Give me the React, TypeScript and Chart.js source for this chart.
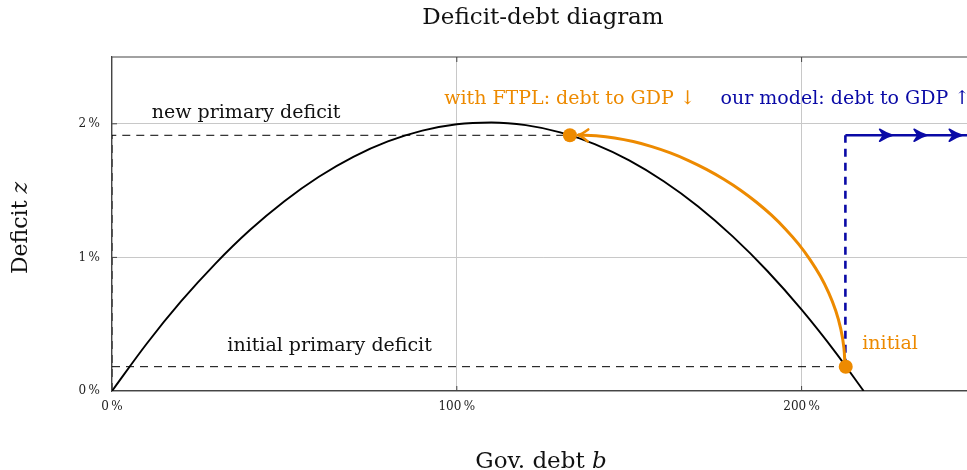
import React, { useEffect, useRef } from "react";
import { Chart, registerables } from "chart.js";

Chart.register(...registerables);

// ---- data (percent of GDP) ----
const curveDebt = [0, 10, 20, 30, 40, 50, 60, 70, 80, 90, 100, 110, 120, 130, 140, 150, 160, 170, 180, 190, 200, 210, 218];
const curveDeficit = [0, 0.352, 0.67, 0.954, 1.205, 1.421, 1.604, 1.753, 1.868, 1.949, 1.997, 2.01, 1.99, 1.936, 1.848, 1.726, 1.57, 1.381, 1.157, 0.9, 0.609, 0.284, 0];

const initialDebt = [212.8];
const initialDeficit = [0.182];
const newDebt = [132.8];
const newDeficit = [1.914];

const ftplDebt = [212.59, 212.27, 211.36, 209.88, 207.87, 205.38, 202.44, 199.08, 195.35, 191.28, 186.92, 182.3, 177.44, 172.41, 167.22, 161.93, 156.57, 151.16, 145.78, 140.42, 135.15];
const ftplDeficit = [0.18, 0.324, 0.465, 0.602, 0.734, 0.862, 0.984, 1.101, 1.211, 1.316, 1.413, 1.503, 1.585, 1.659, 1.725, 1.782, 1.829, 1.867, 1.894, 1.91, 1.916];

const modelDebt = [212.7, 250];
const modelArrowDebt = [226.4, 236.4, 246.6];

const xTicks = [0, 100, 200];
const yTicks = [0, 1, 2];

const SERIF = '"DejaVu Serif", "Liberation Serif", serif';
const ORANGE = "#ED8A00";
const BLUE = "#0A0AA6";
const GRID = "#c8c8c8";
const FRAME = "#454545";

const pts = (xs: number[], ys: number[]) => xs.map((x, i) => ({ x, y: ys[i] }));

function drawArrowHead(ctx: CanvasRenderingContext2D, x: number, y: number, angle: number, len: number, half: number, color: string, lw: number, filled: boolean) {
  ctx.save();
  ctx.translate(x, y);
  ctx.rotate(angle);
  ctx.strokeStyle = color;
  ctx.fillStyle = color;
  ctx.lineWidth = lw;
  ctx.lineCap = "round";
  ctx.lineJoin = "round";
  ctx.beginPath();
  if (filled) {
    ctx.moveTo(0, 0);
    ctx.quadraticCurveTo(-len * 0.45, -half * 0.25, -len, -half);
    ctx.lineTo(-len * 0.7, 0);
    ctx.lineTo(-len, half);
    ctx.quadraticCurveTo(-len * 0.45, half * 0.25, 0, 0);
    ctx.closePath();
    ctx.fill();
    ctx.stroke();
  } else {
    ctx.moveTo(-len, -half);
    ctx.quadraticCurveTo(-len * 0.35, -half * 0.15, 0, 0);
    ctx.quadraticCurveTo(-len * 0.35, half * 0.15, -len, half);
    ctx.stroke();
  }
  ctx.restore();
}

function mixedText(ctx: CanvasRenderingContext2D, plain: string, ital: string, size: number, cx: number, cy: number) {
  ctx.font = `${size}px ${SERIF}`;
  const w1 = ctx.measureText(plain).width;
  ctx.font = `italic ${size}px ${SERIF}`;
  const w2 = ctx.measureText(ital).width;
  const start = cx - (w1 + w2) / 2;
  ctx.textAlign = "left";
  ctx.textBaseline = "alphabetic";
  ctx.font = `${size}px ${SERIF}`;
  ctx.fillText(plain, start, cy);
  ctx.font = `italic ${size}px ${SERIF}`;
  ctx.fillText(ital, start + w1, cy);
}

const overlay = {
  id: "overlay",
  afterDatasetsDraw(chart: any) {
    const { ctx, chartArea: ca, scales } = chart;
    const xs = scales.x;
    const ys = scales.y;
    ctx.save();

    // top frame
    ctx.strokeStyle = FRAME;
    ctx.lineWidth = 1.2;
    ctx.beginPath();
    ctx.moveTo(ca.left, ca.top);
    ctx.lineTo(ca.right, ca.top);
    ctx.stroke();

    // inward tick marks
    ctx.lineWidth = 1;
    ctx.beginPath();
    xTicks.slice(1).forEach((v) => {
      const px = xs.getPixelForValue(v);
      ctx.moveTo(px, ca.bottom);
      ctx.lineTo(px, ca.bottom - 5);
      ctx.moveTo(px, ca.top);
      ctx.lineTo(px, ca.top + 5);
    });
    yTicks.slice(1).forEach((v) => {
      const py = ys.getPixelForValue(v);
      ctx.moveTo(ca.left, py);
      ctx.lineTo(ca.left + 5, py);
    });
    ctx.stroke();

    // arrowheads on our model path
    const yModel = ys.getPixelForValue(newDeficit[0]);
    modelArrowDebt.forEach((d) => {
      drawArrowHead(ctx, xs.getPixelForValue(d), yModel, 0, 13, 6, BLUE, 1.6, true);
    });

    // arrowhead at end of FTPL path
    const n = ftplDebt.length;
    const ax = xs.getPixelForValue(ftplDebt[n - 1]);
    const ay = ys.getPixelForValue(ftplDeficit[n - 1]);
    const bx = xs.getPixelForValue(ftplDebt[n - 2]);
    const by = ys.getPixelForValue(ftplDeficit[n - 2]);
    drawArrowHead(ctx, ax, ay, Math.atan2(ay - by, ax - bx), 10, 6, ORANGE, 2.6, false);

    // title
    ctx.fillStyle = "#111";
    ctx.textAlign = "center";
    ctx.textBaseline = "alphabetic";
    ctx.font = `23px ${SERIF}`;
    ctx.fillText("Deficit-debt diagram", (ca.left + ca.right) / 2, 24);

    // axis titles
    mixedText(ctx, "Gov. debt ", "b", 23, 541, 468);
    ctx.save();
    ctx.translate(27, (ca.top + ca.bottom) / 2 + 4);
    ctx.rotate(-Math.PI / 2);
    mixedText(ctx, "Deficit ", "z", 22, 0, 0);
    ctx.restore();

    // annotations
    ctx.font = `19px ${SERIF}`;
    ctx.textBaseline = "alphabetic";
    ctx.textAlign = "center";
    ctx.fillStyle = "#111";
    ctx.fillText("new primary deficit", xs.getPixelForValue(38.9), ys.getPixelForValue(2.043));
    ctx.fillText("initial primary deficit", xs.getPixelForValue(63.1), ys.getPixelForValue(0.302));
    ctx.fillStyle = ORANGE;
    ctx.fillText("with FTPL: debt to GDP \u2193", xs.getPixelForValue(newDebt[0]), ys.getPixelForValue(2.145));
    ctx.fillStyle = BLUE;
    ctx.fillText("our model: debt to GDP \u2191", xs.getPixelForValue(modelDebt[0]), ys.getPixelForValue(2.145));
    ctx.fillStyle = ORANGE;
    ctx.textAlign = "left";
    ctx.fillText("initial", xs.getPixelForValue(217.6), ys.getPixelForValue(0.3125));

    ctx.restore();
  },
};

export default function App() {
  const ref = useRef<HTMLCanvasElement>(null);

  useEffect(() => {
    if (!ref.current) return;
    const chart = new Chart(ref.current, {
      type: "scatter",
      data: {
        datasets: [
          {
            label: "points",
            data: [...pts(initialDebt, initialDeficit), ...pts(newDebt, newDeficit)],
            pointRadius: 7,
            pointBackgroundColor: ORANGE,
            pointBorderWidth: 0,
            showLine: false,
            order: 0,
          },
          {
            label: "FTPL path",
            data: pts(ftplDebt, ftplDeficit),
            showLine: true,
            borderColor: ORANGE,
            borderWidth: 3,
            pointRadius: 0,
            tension: 0.4,
            order: 1,
          },
          {
            label: "model horizontal",
            data: pts(modelDebt, [newDeficit[0], newDeficit[0]]),
            showLine: true,
            borderColor: BLUE,
            borderWidth: 2.6,
            pointRadius: 0,
            order: 2,
          },
          {
            label: "model vertical",
            data: pts([modelDebt[0], modelDebt[0]], [initialDeficit[0], newDeficit[0]]),
            showLine: true,
            borderColor: BLUE,
            borderWidth: 2.6,
            borderDash: [8, 6],
            pointRadius: 0,
            order: 2,
          },
          {
            label: "curve",
            data: pts(curveDebt, curveDeficit),
            showLine: true,
            borderColor: "#000",
            borderWidth: 1.9,
            pointRadius: 0,
            cubicInterpolationMode: "monotone",
            order: 3,
          },
          {
            label: "new deficit level",
            data: pts([0, 0, newDebt[0]], [0, newDeficit[0], newDeficit[0]]),
            showLine: true,
            borderColor: "#000",
            borderWidth: 1,
            borderDash: [8, 6],
            pointRadius: 0,
            order: 4,
          },
          {
            label: "initial deficit level",
            data: pts([0, initialDebt[0]], [initialDeficit[0], initialDeficit[0]]),
            showLine: true,
            borderColor: "#000",
            borderWidth: 1,
            borderDash: [8, 6],
            pointRadius: 0,
            order: 4,
          },
        ],
      },
      options: {
        responsive: false,
        animation: false,
        layout: { padding: { left: 62, top: 57, right: 16, bottom: 49 } },
        plugins: { legend: { display: false }, tooltip: { enabled: false }, title: { display: false } },
        scales: {
          x: {
            type: "linear",
            min: 0,
            max: 250,
            afterBuildTicks: (s: any) => {
              s.ticks = xTicks.map((v) => ({ value: v }));
            },
            afterFit: (s: any) => {
              s.height = 30;
            },
            ticks: {
              stepSize: 100,
              autoSkip: false,
              maxRotation: 0,
              padding: 9,
              color: "#222",
              font: { family: SERIF, size: 12 },
              callback: (v: any) => `${v}\u2009%`,
            },
            grid: { color: GRID, lineWidth: 1, drawTicks: false },
            border: { color: FRAME, width: 1.2 },
          },
          y: {
            type: "linear",
            min: 0,
            max: 2.5,
            afterBuildTicks: (s: any) => {
              s.ticks = yTicks.map((v) => ({ value: v }));
            },
            afterFit: (s: any) => {
              s.width = 50;
            },
            ticks: {
              stepSize: 1,
              padding: 12,
              color: "#222",
              font: { family: SERIF, size: 12 },
              callback: (v: any) => `${v}\u2009%`,
            },
            grid: { color: GRID, lineWidth: 1, drawTicks: false },
            border: { color: FRAME, width: 1.2 },
          },
        },
      },
      plugins: [overlay],
    } as any);
    return () => chart.destroy();
  }, []);

  return (
    <div style={{ position: "fixed", left: 0, top: 0, width: 967, height: 470, overflow: "hidden", background: "#fff" }}>
      <canvas ref={ref} width={990} height={470} style={{ width: 990, height: 470, display: "block" }} />
    </div>
  );
}
